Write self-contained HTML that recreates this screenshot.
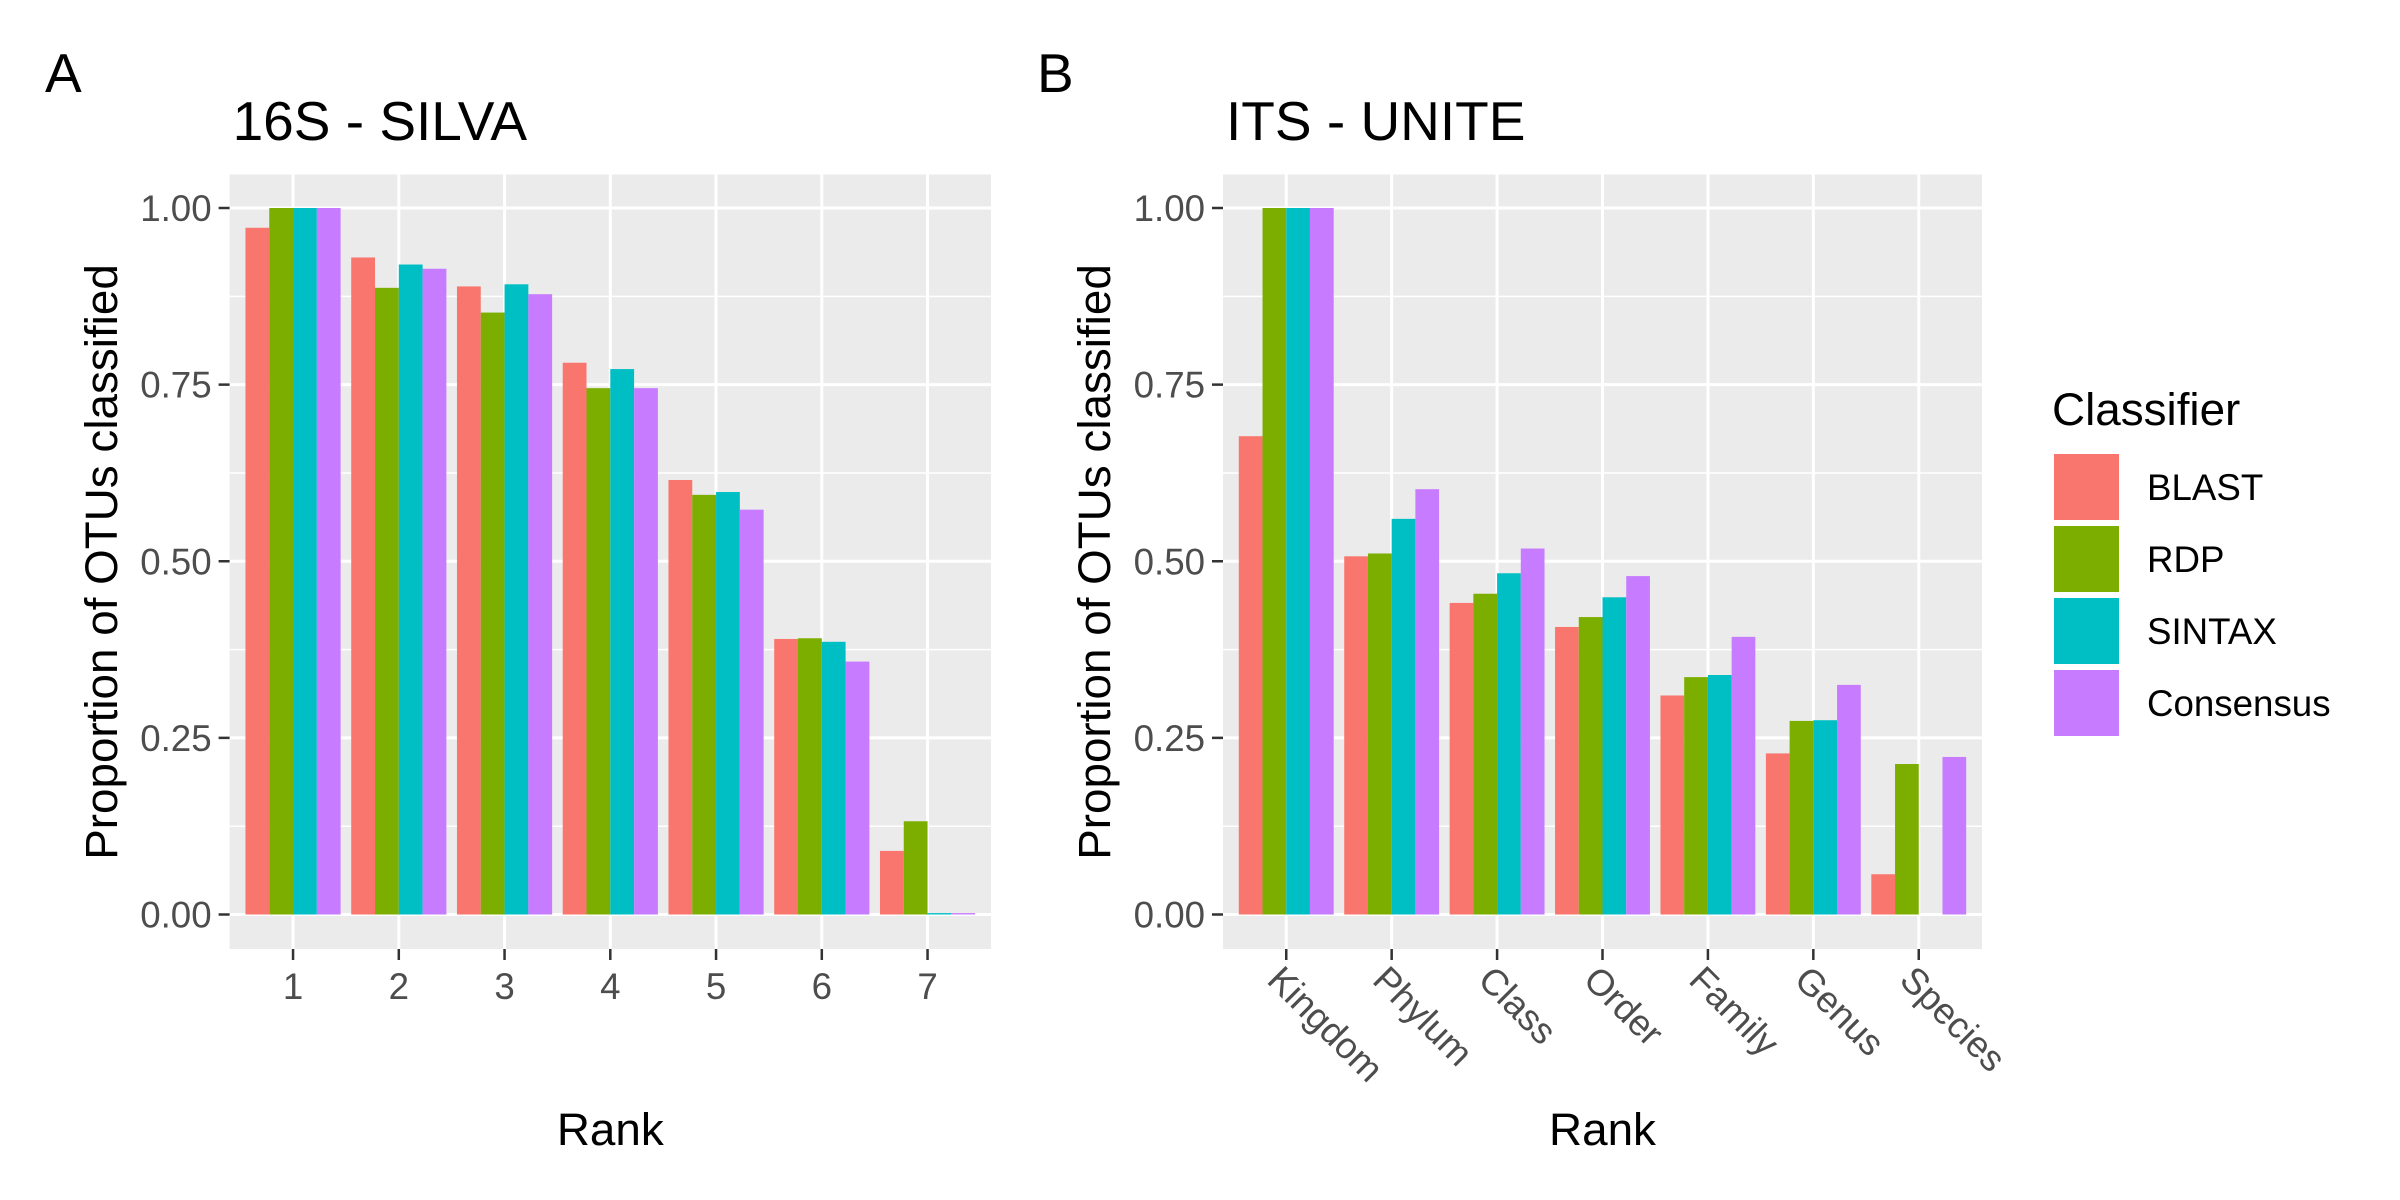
<!DOCTYPE html>
<html><head><meta charset="utf-8"><style>
html,body{margin:0;padding:0;background:#fff;}
svg{display:block;font-family:"Liberation Sans",Arial,sans-serif;}
</style></head><body>
<svg id="chart" width="2400" height="1200" viewBox="0 0 2400 1200" xmlns="http://www.w3.org/2000/svg"></svg>
<script>
const classifiers = ["BLAST","RDP","SINTAX","Consensus"];
const colors = ["#F8766D","#7CAE00","#00BFC4","#C77CFF"];
const yTicks = [0,0.25,0.5,0.75,1];
const yTickLabels = ["0.00","0.25","0.50","0.75","1.00"];
const ranksA = ["1","2","3","4","5","6","7"];
const blastA = [0.972,0.930,0.889,0.781,0.615,0.390,0.090];
const rdpA = [1,0.887,0.852,0.745,0.594,0.391,0.132];
const sintaxA = [1,0.920,0.892,0.772,0.598,0.386,0.002];
const consA = [1,0.914,0.878,0.745,0.573,0.358,0.002];
const ranksB = ["Kingdom","Phylum","Class","Order","Family","Genus","Species"];
const blastB = [0.677,0.507,0.441,0.407,0.310,0.228,0.057];
const rdpB = [1,0.511,0.454,0.421,0.336,0.274,0.213];
const sintaxB = [1,0.560,0.483,0.449,0.339,0.275,0];
const consB = [1,0.602,0.518,0.479,0.393,0.325,0.223];

const NS="http://www.w3.org/2000/svg";
const svg=document.getElementById('chart');
function mk(tag,attrs,parent,text){const e=document.createElementNS(NS,tag);for(const k in attrs)e.setAttribute(k,attrs[k]);if(text!==undefined)e.textContent=text;(parent||svg).appendChild(e);return e;}

function panel(opt){
  const g=mk('g',{});
  
  
  const L=opt.left,R=opt.right,T=174.5,B=949;
  const y0=914.5,y1=208;
  const yS=v=>y0-(y0-y1)*v;
  const n=opt.cats.length;
  const step=(R-L)/(n-1+1.2);
  const xS=i=>L+step*(0.6+i);
  const bg=mk('rect',{x:L,y:T,width:R-L,height:B-T,fill:'#EBEBEB'},g);
  
  
  // minor grid
  for(let i=0;i<yTicks.length-1;i++){
    const v=(yTicks[i]+yTicks[i+1])/2;
    mk('line',{x1:L,x2:R,y1:yS(v),y2:yS(v),stroke:'#fff','stroke-width':1.5},g);
  }
  yTicks.forEach(v=>{mk('line',{x1:L,x2:R,y1:yS(v),y2:yS(v),stroke:'#fff','stroke-width':3},g);});
  opt.cats.forEach((c,i)=>{mk('line',{x1:xS(i),x2:xS(i),y1:T,y2:B,stroke:'#fff','stroke-width':3},g);});
  // bars
  const bw=step*0.9/4;
  opt.series.forEach((s,k)=>{
    s.forEach((v,i)=>{
      const x=xS(i)-step*0.45+k*bw;
      const r=mk('rect',{x:x,y:yS(v),width:bw,height:Math.max(0,y0-yS(v)),fill:colors[k]},g);
      
      
    });
  });
  // y ticks
  yTicks.forEach((v,i)=>{
    mk('line',{x1:L-11,x2:L,y1:yS(v),y2:yS(v),stroke:'#333','stroke-width':2.5},g);
    const t=mk('text',{x:L-18,y:yS(v)+13,'text-anchor':'end','font-size':36.7,fill:'#4D4D4D'},g,yTickLabels[i]);
    
    
  });
  // x ticks
  opt.cats.forEach((c,i)=>{
    mk('line',{x1:xS(i),x2:xS(i),y1:B,y2:B+11,stroke:'#333','stroke-width':2.5},g);
    let t;
    if(opt.rotate){
      t=mk('text',{x:0,y:0,dy:'0.72em',transform:`translate(${xS(i)-2},${B+14}) rotate(45)`,'font-size':36.7,fill:'#4D4D4D'},g,c);
    } else {
      t=mk('text',{x:xS(i),y:B+50,'text-anchor':'middle','font-size':36.7,fill:'#4D4D4D'},g,c);
    }
    
    
  });
  const yt=mk('text',{transform:`translate(${opt.ytX},562) rotate(-90)`,'text-anchor':'middle','font-size':45.8,fill:'#000'},g,'Proportion of OTUs classified');
  
  
  const xt=mk('text',{x:(L+R)/2,y:1145,'text-anchor':'middle','font-size':45.8,fill:'#000'},g,'Rank');
  
  
  const tt=mk('text',{x:L+3,y:140,'font-size':55,fill:'#000'},g,opt.title);
  
  
  const tg=mk('text',{x:opt.tagX,y:92,'font-size':55,fill:'#000'},g,opt.tag);
  
  
}
panel({name:'panel-a',left:229.6,right:991,cats:ranksA,series:[blastA,rdpA,sintaxA,consA],rotate:false,ytX:117,title:'16S - SILVA',tag:'A',tagX:45});
panel({name:'panel-b',left:1223,right:1982,cats:ranksB,series:[blastB,rdpB,sintaxB,consB],rotate:true,ytX:1110,title:'ITS - UNITE',tag:'B',tagX:1037});

// legend
const lg=mk('g',{});


const lt=mk('text',{x:2052,y:425,'font-size':45.8,fill:'#000'},lg,'Classifier');


classifiers.forEach((c,k)=>{
  const y=454+k*72;
  const r=mk('rect',{x:2054,y:y,width:65,height:66,fill:colors[k]},lg);
  
  
  const t=mk('text',{x:2147,y:y+46,'font-size':36.7,fill:'#000'},lg,c);
  
  
});
</script>
</body></html>
